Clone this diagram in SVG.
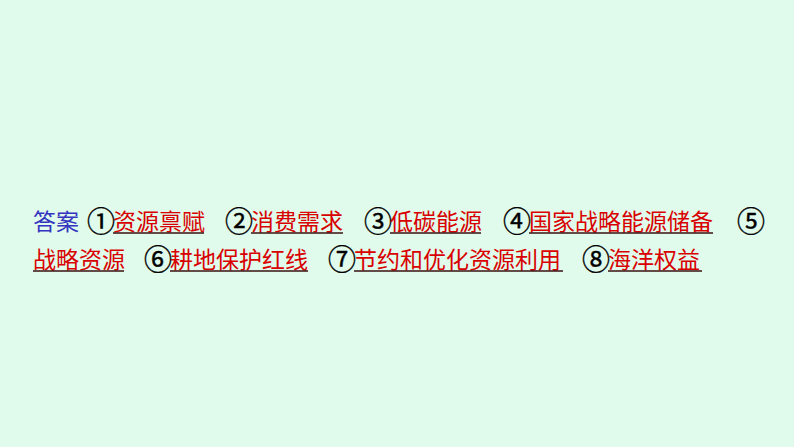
<svg xmlns="http://www.w3.org/2000/svg" width="794" height="447" viewBox="0 0 794 447">
<style>
text{font-family:"Noto Sans CJK SC","Noto Sans",sans-serif;font-size:23px}
.lbl{fill:#3434C0}
.num{fill:#000;font-size:28px;text-anchor:middle;stroke:#000;stroke-width:0.4}
.ans{fill:#D80000}
.ul{stroke:#3A1010;stroke-width:1.6}
</style>
<rect width="794" height="447" fill="#E0FBEC"/>
<g id="line1">
<text class="lbl" x="33" y="230">答案</text>
<text class="num" x="101" y="232">①</text><text class="ans" x="113" y="230">资源禀赋</text>
<text class="num" x="239" y="232">②</text><text class="ans" x="251" y="230">消费需求</text>
<text class="num" x="378" y="232">③</text><text class="ans" x="390" y="230">低碳能源</text>
<text class="num" x="517" y="232">④</text><text class="ans" x="529" y="230">国家战略能源储备</text>
<text class="num" x="751" y="232">⑤</text>
</g>
<g id="line2">
<text class="ans" x="33" y="268">战略资源</text>
<text class="num" x="158" y="270">⑥</text><text class="ans" x="170" y="268">耕地保护红线</text>
<text class="num" x="342" y="270">⑦</text><text class="ans" x="354" y="268">节约和优化资源利用</text>
<text class="num" x="596" y="270">⑧</text><text class="ans" x="608" y="268">海洋权益</text>
</g>
<g id="underlines">
<line class="ul" x1="113" y1="233" x2="204" y2="233"/>
<line class="ul" x1="251" y1="233" x2="343" y2="233"/>
<line class="ul" x1="390" y1="233" x2="481" y2="233"/>
<line class="ul" x1="529" y1="233" x2="713" y2="233"/>
<line class="ul" x1="33" y1="271" x2="124" y2="271"/>
<line class="ul" x1="170" y1="271" x2="308" y2="271"/>
<line class="ul" x1="354" y1="271" x2="563" y2="271"/>
<line class="ul" x1="608" y1="271" x2="702" y2="271"/>
</g>
</svg>
